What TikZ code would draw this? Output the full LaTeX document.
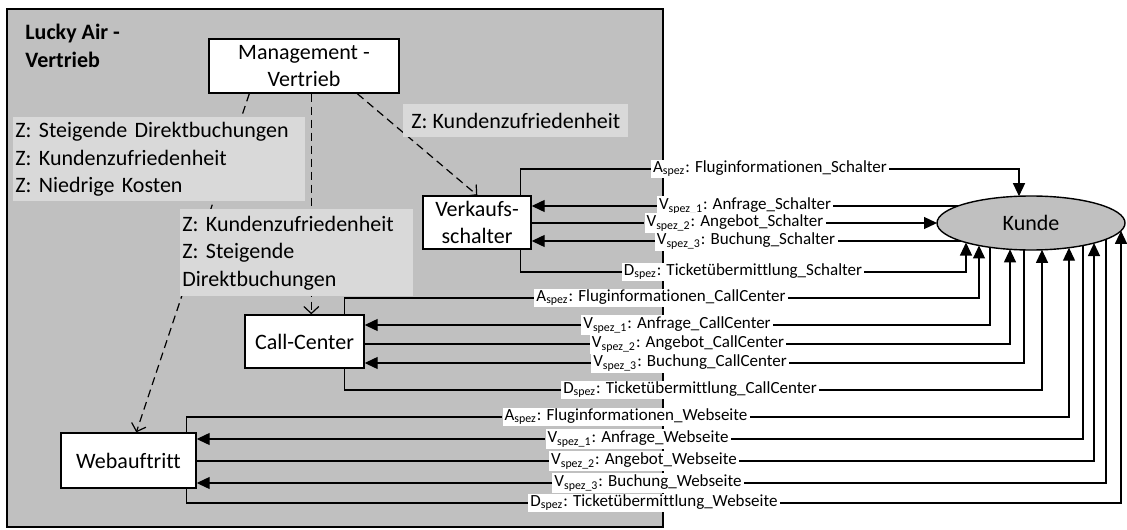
\documentclass[tikz,border=0pt]{standalone}
\usepackage{fontspec}
\setmainfont[RawFeature=-liga]{Carlito}
\usetikzlibrary{arrows.meta,shapes.geometric}
\definecolor{flaeche}{RGB}{192,192,192}
\definecolor{zielgrau}{RGB}{217,217,217}
\newcommand{\grossschrift}{\fontsize{11}{13.75}\selectfont}
\newcommand{\kleinschrift}{\fontsize{8.5}{10}\selectfont}

\begin{document}
\begin{tikzpicture}[x=0.5pt,y=-0.5pt,
  einheit/.style={draw, fill=white, line width=0.7pt, align=center, inner sep=0pt, font=\grossschrift},
  ziel/.style={fill=zielgrau, anchor=north west, align=left, inner sep=1pt, font=\grossschrift},
  fluss/.style={fill=white, inner xsep=1pt, inner ysep=0.8pt, font=\kleinschrift},
  auftrag/.style={line width=0.6pt, dash pattern=on 4pt off 2.5pt, -{Straight Barb[length=3.5pt,width=7.5pt]}},
  pfeil/.style={line width=0.6pt, -{Triangle[length=6.5pt,width=6pt]}}]
\useasboundingbox (0,0) rectangle (1127,529);
% Sales area
\draw[fill=flaeche, line width=0.6pt] (7,9) rectangle (663,527);
\node[anchor=north west, align=left, inner sep=0pt, font=\grossschrift\bfseries] (lucky) at (25,24) {Lucky Air -\\Vertrieb};
% Units and customer
\node[einheit, minimum width=95pt, minimum height=27pt] (mgmt) at (304,66) {Management -\\Vertrieb};
\node[einheit, minimum width=54pt, minimum height=26.5pt] (ver) at (477,222.5) {Verkaufs-\\schalter};
\node[einheit, minimum width=59.5pt, minimum height=26.5pt] (cc) at (304.5,341.5) {Call-Center};
\node[einheit, minimum width=67.5pt, minimum height=27.5pt] (web) at (128.5,460.5) {Webauftritt};
\node[ellipse, draw, fill=flaeche, line width=0.7pt, minimum width=94pt, minimum height=27pt, inner sep=0pt, outer sep=0pt, font=\grossschrift] (kunde) at (1031,223) {Kunde};
%
% Targets from the management
\draw[auftrag] ([xshift=20.5pt]mgmt.south west) -- ([xshift=38pt]web.north west);
\draw[auftrag] ([xshift=51.5pt]mgmt.south west) -- ([xshift=33.5pt]cc.north west);
\draw[auftrag] ([xshift=74.5pt]mgmt.south west) -- ([xshift=27.5pt]ver.north west);
\node[ziel, text width=144pt, minimum height=42pt] (z-web) at (13,117) {Z: Steigende Direktbuchungen\\Z: Kundenzufriedenheit\\Z: Niedrige Kosten};
\node[ziel, text width=114.5pt, minimum height=43.5pt] (z-cc) at (180,209) {Z: Kundenzufriedenheit\\Z: Steigende\\Direktbuchungen};
\node[ziel, minimum width=112.5pt, minimum height=16.5pt] (z-ver) at (403,104) {Z: Kundenzufriedenheit};
%
% Points on the customer ellipse
\foreach \n/\x in {sd/966,ca/979,cv1/990,cv2/1010,cv3/1024,cd/1042,wa/1069,wv1/1083,wv2/1094,wv3/1106,wd/1121}{
  \pgfmathsetmacro{\yk}{223+27*sqrt(1-((\x-1031)/94)*((\x-1031)/94))}
  \coordinate (k-\n) at (\x,\yk);
}
\foreach \n/\y in {sv1/206,sv3/241}{
  \pgfmathsetmacro{\xk}{1031-94*sqrt(1-((\y-223)/27)*((\y-223)/27))}
  \coordinate (k-\n) at (\xk,\y);
}
\pgfmathsetmacro{\yk}{223-27*sqrt(1-(12/94)*(12/94))}
\coordinate (k-sa) at (1019,\yk);
%
% Flows: Verkaufsschalter
\node[fluss] (s-a) at (770,169) {A\textsubscript{spez}: Fluginformationen\_Schalter};
\node[fluss] (s-v1) at (745,206) {V\textsubscript{spez\_1}: Anfrage\_Schalter};
\node[fluss] (s-v2) at (735,223) {V\textsubscript{spez\_2}: Angebot\_Schalter};
\node[fluss] (s-v3) at (746,241) {V\textsubscript{spez\_3}: Buchung\_Schalter};
\node[fluss] (s-d) at (743,272) {D\textsubscript{spez}: Ticketübermittlung\_Schalter};
\draw[pfeil] (ver.north east) ++(-11,0) |- (s-a) -| (k-sa);
\draw[pfeil] (k-sv1) -- (s-v1) -- (ver.east |- s-v1);
\draw[pfeil] (ver.east |- s-v2) -- (s-v2) -- (kunde.west);
\draw[pfeil] (k-sv3) -- (s-v3) -- (ver.east |- s-v3);
\draw[pfeil] (ver.south east) ++(-11,0) |- (s-d) -| (k-sd);
% Flows: Call-Center
\node[fluss] (c-a) at (661,298) {A\textsubscript{spez}: Fluginformationen\_CallCenter};
\node[fluss] (c-v1) at (677,325) {V\textsubscript{spez\_1}: Anfrage\_CallCenter};
\node[fluss] (c-v2) at (688,344) {V\textsubscript{spez\_2}: Angebot\_CallCenter};
\node[fluss] (c-v3) at (690,363) {V\textsubscript{spez\_3}: Buchung\_CallCenter};
\node[fluss] (c-d) at (690,390) {D\textsubscript{spez}: Ticketübermittlung\_CallCenter};
\draw[pfeil] (cc.north east) ++(-20,0) |- (c-a) -| (k-ca);
\draw[pfeil] (k-cv1) |- (c-v1) -- (cc.east |- c-v1);
\draw[pfeil] (cc.east |- c-v2) -- (c-v2) -| (k-cv2);
\draw[pfeil] (k-cv3) |- (c-v3) -- (cc.east |- c-v3);
\draw[pfeil] (cc.south east) ++(-20,0) |- (c-d) -| (k-cd);
% Flows: Webauftritt
\node[fluss] (w-a) at (626,417) {A\textsubscript{spez}: Fluginformationen\_Webseite};
\node[fluss] (w-v1) at (638,439) {V\textsubscript{spez\_1}: Anfrage\_Webseite};
\node[fluss] (w-v2) at (644,461) {V\textsubscript{spez\_2}: Angebot\_Webseite};
\node[fluss] (w-v3) at (648,483) {V\textsubscript{spez\_3}: Buchung\_Webseite};
\node[fluss] (w-d) at (654,503) {D\textsubscript{spez}: Ticketübermittlung\_Webseite};
\draw[pfeil] (web.north east) ++(-10,0) |- (w-a) -| (k-wa);
\draw[pfeil] (k-wv1) |- (w-v1) -- (web.east |- w-v1);
\draw[pfeil] (web.east |- w-v2) -- (w-v2) -| (k-wv2);
\draw[pfeil] (k-wv3) |- (w-v3) -- (web.east |- w-v3);
\draw[pfeil] (web.south east) ++(-10,0) |- (w-d) -| (k-wd);
\end{tikzpicture}
\end{document}
